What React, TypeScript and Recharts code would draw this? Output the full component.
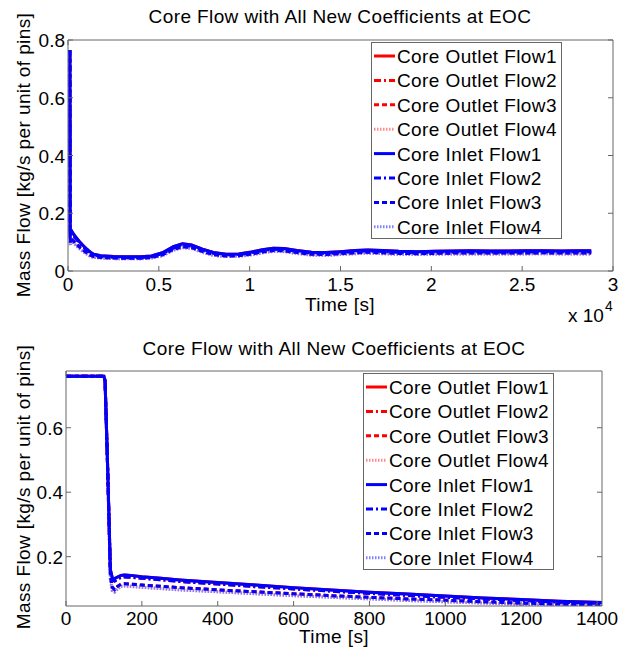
import { LineChart, Line, XAxis, YAxis, Legend } from 'recharts';

const FONT = '"Liberation Sans", Arial, Helvetica, sans-serif';
const AXIS = '#666666';
const RED = '#ff0000';
const BLUE = '#0000ff';
const RED_LIGHT = '#ff8a8a';
const BLUE_LIGHT = '#8080ff';
const TICK_LEN = 5;

// transient window: pump trip at ~100 s (seconds)
const shortTime = [0, 50, 100, 103, 110, 117, 122, 128, 136, 145, 155, 170, 200, 250, 300, 400, 500, 600, 700, 800, 900, 1000, 1100, 1200, 1300, 1413];
const shortInlet1 = [0.76, 0.76, 0.76, 0.745, 0.47, 0.16, 0.134, 0.132, 0.137, 0.142, 0.143, 0.142, 0.138, 0.133, 0.128, 0.12, 0.112, 0.104, 0.097, 0.09, 0.084, 0.078, 0.072, 0.067, 0.062, 0.058];
const shortInlet2 = [0.76, 0.76, 0.76, 0.745, 0.47, 0.155, 0.127, 0.124, 0.13, 0.136, 0.137, 0.136, 0.133, 0.128, 0.123, 0.115, 0.107, 0.1, 0.093, 0.086, 0.08, 0.074, 0.069, 0.064, 0.059, 0.055];
const shortInlet3 = [0.76, 0.76, 0.76, 0.745, 0.46, 0.14, 0.105, 0.098, 0.108, 0.115, 0.116, 0.115, 0.112, 0.108, 0.104, 0.097, 0.091, 0.085, 0.079, 0.074, 0.069, 0.065, 0.06, 0.056, 0.053, 0.05];
const shortInlet4 = [0.76, 0.76, 0.76, 0.745, 0.46, 0.13, 0.095, 0.09, 0.1, 0.108, 0.109, 0.108, 0.105, 0.101, 0.097, 0.091, 0.085, 0.079, 0.074, 0.069, 0.064, 0.06, 0.056, 0.052, 0.049, 0.047];

// natural circulation afterwards, up to 8 h
const longTime = [1800, 2500, 3200, 4000, 4600, 5200, 5800, 6300, 6800, 7400, 8000, 8700, 9400, 10100, 10700, 11300, 11900, 12600, 13400, 14200, 15000, 15800, 16500, 17300, 18200, 19200, 20200, 21200, 22200, 23200, 24200, 25200, 26200, 27200, 28000, 28800];
const longInlet1 = [0.053, 0.05, 0.049, 0.049, 0.052, 0.063, 0.084, 0.094, 0.09, 0.076, 0.064, 0.058, 0.059, 0.066, 0.074, 0.079, 0.078, 0.071, 0.065, 0.064, 0.067, 0.071, 0.073, 0.071, 0.068, 0.067, 0.068, 0.069, 0.07, 0.069, 0.069, 0.07, 0.07, 0.069, 0.07, 0.07];
const longInlet2 = [0.051, 0.048, 0.047, 0.047, 0.05, 0.06, 0.08, 0.09, 0.086, 0.073, 0.061, 0.056, 0.057, 0.063, 0.071, 0.076, 0.075, 0.068, 0.062, 0.061, 0.064, 0.068, 0.07, 0.068, 0.065, 0.064, 0.065, 0.066, 0.067, 0.066, 0.066, 0.067, 0.067, 0.066, 0.067, 0.067];
const longInlet3 = [0.047, 0.045, 0.044, 0.044, 0.047, 0.056, 0.075, 0.084, 0.081, 0.068, 0.057, 0.052, 0.053, 0.059, 0.066, 0.071, 0.07, 0.064, 0.058, 0.057, 0.06, 0.063, 0.065, 0.063, 0.061, 0.06, 0.061, 0.062, 0.062, 0.062, 0.062, 0.062, 0.063, 0.062, 0.062, 0.062];
const longInlet4 = [0.045, 0.043, 0.042, 0.042, 0.045, 0.053, 0.072, 0.081, 0.078, 0.065, 0.054, 0.05, 0.051, 0.056, 0.063, 0.068, 0.067, 0.061, 0.055, 0.054, 0.057, 0.06, 0.062, 0.06, 0.058, 0.057, 0.058, 0.059, 0.059, 0.059, 0.059, 0.059, 0.06, 0.059, 0.059, 0.059];

// outlet flow equals inlet flow per channel; the red traces are drawn first and end up under the blue ones
const shortOutlet = [shortInlet1, shortInlet2, shortInlet3, shortInlet4];
const longOutlet = [longInlet1, longInlet2, longInlet3, longInlet4];
const shortInlet = [shortInlet1, shortInlet2, shortInlet3, shortInlet4];
const longInlet = [longInlet1, longInlet2, longInlet3, longInlet4];

const fullTicksX = [0, 5000, 10000, 15000, 20000, 25000, 30000];
const fullTicksY = [0, 0.2, 0.4, 0.6, 0.8];
const zoomTicksX = [0, 200, 400, 600, 800, 1000, 1200, 1400];
const zoomTicksY = [0.2, 0.4, 0.6];

const TITLE = 'Core Flow with All New Coefficients at EOC';
const Y_LABEL = 'Mass Flow [kg/s per unit of pins]';
const X_LABEL = 'Time [s]';

const series = [
  { key: 'out1', name: 'Core Outlet Flow1', color: RED, dash: undefined },
  { key: 'out2', name: 'Core Outlet Flow2', color: RED, dash: '7 3 2 3' },
  { key: 'out3', name: 'Core Outlet Flow3', color: RED, dash: '5 3' },
  { key: 'out4', name: 'Core Outlet Flow4', color: RED_LIGHT, dash: '1.5 1.5' },
  { key: 'in1', name: 'Core Inlet Flow1', color: BLUE, dash: undefined },
  { key: 'in2', name: 'Core Inlet Flow2', color: BLUE, dash: '7 3 2 3' },
  { key: 'in3', name: 'Core Inlet Flow3', color: BLUE, dash: '5 3' },
  { key: 'in4', name: 'Core Inlet Flow4', color: BLUE_LIGHT, dash: '1.5 1.5' },
];

// paint order: outlet group first, and within each group the solid trace last so it stays on top
const paintOrder = ['out4', 'out3', 'out2', 'out1', 'in4', 'in3', 'in2', 'in1'];

function buildRows(times: number[], outlet: number[][], inlet: number[][]) {
  return times.map((t, i) => ({
    t,
    out1: outlet[0][i], out2: outlet[1][i], out3: outlet[2][i], out4: outlet[3][i],
    in1: inlet[0][i], in2: inlet[1][i], in3: inlet[2][i], in4: inlet[3][i],
  }));
}

const zoomRows = buildRows(shortTime, shortOutlet, shortInlet);
const fullRows = [...zoomRows, ...buildRows(longTime, longOutlet, longInlet)];

const fmtPlain = (v: number) => String(v);
const fmtE4 = (v: number) => String(v / 10000);

// ticks point inward on all four sides, labels only on left/bottom
function LeftTick(props: any) {
  const { x, y, payload, fmt } = props;
  return (
    <g>
      <line x1={x} y1={y} x2={x + TICK_LEN} y2={y} stroke={AXIS} />
      <text x={x - 3} y={y + 7} textAnchor="end" fontSize={19} fontFamily={FONT} fill="#000">
        {fmt(payload.value)}
      </text>
    </g>
  );
}

function BottomTick(props: any) {
  const { x, y, payload, fmt, dy } = props;
  return (
    <g>
      <line x1={x} y1={y} x2={x} y2={y - TICK_LEN} stroke={AXIS} />
      <text x={x} y={y + dy} textAnchor="middle" fontSize={19} fontFamily={FONT} fill="#000">
        {fmt(payload.value)}
      </text>
    </g>
  );
}

function RightTick(props: any) {
  const { x, y } = props;
  return <line x1={x} y1={y} x2={x - TICK_LEN} y2={y} stroke={AXIS} />;
}

function TopTick(props: any) {
  const { x, y } = props;
  return <line x1={x} y1={y} x2={x} y2={y + TICK_LEN} stroke={AXIS} />;
}

const LEG_W = 191;
const LEG_H = 197;

function FlowLegend() {
  return (
    <svg width={LEG_W} height={LEG_H} style={{ display: 'block' }}>
      <rect x={0.5} y={0.5} width={LEG_W - 1} height={LEG_H - 1} fill="#fff" stroke={AXIS} />
      {series.map((s, i) => {
        const cy = 14 + i * 24.4;
        return (
          <g key={s.key}>
            <line x1={3} x2={24} y1={cy} y2={cy} stroke={s.color} strokeWidth={3}
              strokeDasharray={s.dash} />
            <text x={26} y={cy + 7} fontSize={19} fontFamily={FONT} letterSpacing={0.4} fill="#000">
              {s.name}
            </text>
          </g>
        );
      })}
    </svg>
  );
}

function renderLines() {
  return paintOrder.map((key) => {
    const s = series.find((item) => item.key === key)!;
    return (
      <Line
        key={s.key}
        type="linear"
        dataKey={s.key}
        name={s.name}
        stroke={s.color}
        strokeWidth={3}
        strokeDasharray={s.dash}
        dot={false}
        activeDot={false}
        isAnimationActive={false}
      />
    );
  });
}

const axisCommon = {
  stroke: AXIS,
  tickLine: false,
  tickSize: 0,
  tickMargin: 0,
  interval: 0 as const,
  allowDataOverflow: true,
};

export default function App() {
  return (
    <div style={{ position: 'absolute', left: 0, top: 0, width: 618, height: 651, background: '#fff' }}>
      <div style={{ position: 'absolute', left: 0, top: 0 }}>
        <LineChart width={618} height={325} data={fullRows} margin={{ top: 39, right: 4, bottom: 24, left: 8 }}>
          <XAxis dataKey="t" type="number" domain={[0, 30000]} ticks={fullTicksX} height={30}
            tick={<BottomTick fmt={fmtE4} dy={20} />} {...axisCommon} />
          <XAxis xAxisId="top" orientation="top" type="number" domain={[0, 30000]} ticks={fullTicksX}
            height={1} tick={<TopTick />} {...axisCommon} />
          <YAxis type="number" domain={[0, 0.8]} ticks={fullTicksY} width={60}
            tick={<LeftTick fmt={fmtPlain} />} {...axisCommon} />
          <YAxis yAxisId="right" orientation="right" type="number" domain={[0, 0.8]} ticks={fullTicksY}
            width={1} tick={<RightTick />} {...axisCommon} />
          <Legend layout="vertical" align="center" verticalAlign="middle" content={<FlowLegend />}
            wrapperStyle={{ left: 371, top: 42, width: LEG_W, height: LEG_H }} />
          {renderLines()}
        </LineChart>
      </div>
      <div style={{ position: 'absolute', left: 0, top: 325 }}>
        <LineChart width={618} height={326} data={zoomRows} margin={{ top: 45, right: 15, bottom: 15, left: 6 }}>
          <XAxis dataKey="t" type="number" domain={[0, 1413]} ticks={zoomTicksX} height={30}
            tick={<BottomTick fmt={fmtPlain} dy={19} />} {...axisCommon} />
          <XAxis xAxisId="top" orientation="top" type="number" domain={[0, 1413]} ticks={zoomTicksX}
            height={1} tick={<TopTick />} {...axisCommon} />
          <YAxis type="number" domain={[0.047, 0.776]} ticks={zoomTicksY} width={60}
            tick={<LeftTick fmt={fmtPlain} />} {...axisCommon} />
          <YAxis yAxisId="right" orientation="right" type="number" domain={[0.047, 0.776]} ticks={zoomTicksY}
            width={1} tick={<RightTick />} {...axisCommon} />
          <Legend layout="vertical" align="center" verticalAlign="middle" content={<FlowLegend />}
            wrapperStyle={{ left: 363, top: 48, width: LEG_W, height: LEG_H }} />
          {renderLines()}
        </LineChart>
      </div>
      <svg width={618} height={651} style={{ position: 'absolute', left: 0, top: 0, pointerEvents: 'none' }}
        fontFamily={FONT} fill="#000">
        <text x={340} y={23} textAnchor="middle" fontSize={19} letterSpacing={0.4}>{TITLE}</text>
        <text transform="translate(30,155) rotate(-90)" textAnchor="middle" fontSize={19} letterSpacing={0.4}>{Y_LABEL}</text>
        <text x={340} y={311} textAnchor="middle" fontSize={19} letterSpacing={0.4}>{X_LABEL}</text>
        <text x={568} y={322} fontSize={19}>x 10</text>
        <text x={605} y={311} fontSize={14}>4</text>

        <text x={334} y={355} textAnchor="middle" fontSize={19} letterSpacing={0.4}>{TITLE}</text>
        <text transform="translate(30,487) rotate(-90)" textAnchor="middle" fontSize={19} letterSpacing={0.4}>{Y_LABEL}</text>
        <text x={334} y={643} textAnchor="middle" fontSize={19} letterSpacing={0.4}>{X_LABEL}</text>
      </svg>
    </div>
  );
}
